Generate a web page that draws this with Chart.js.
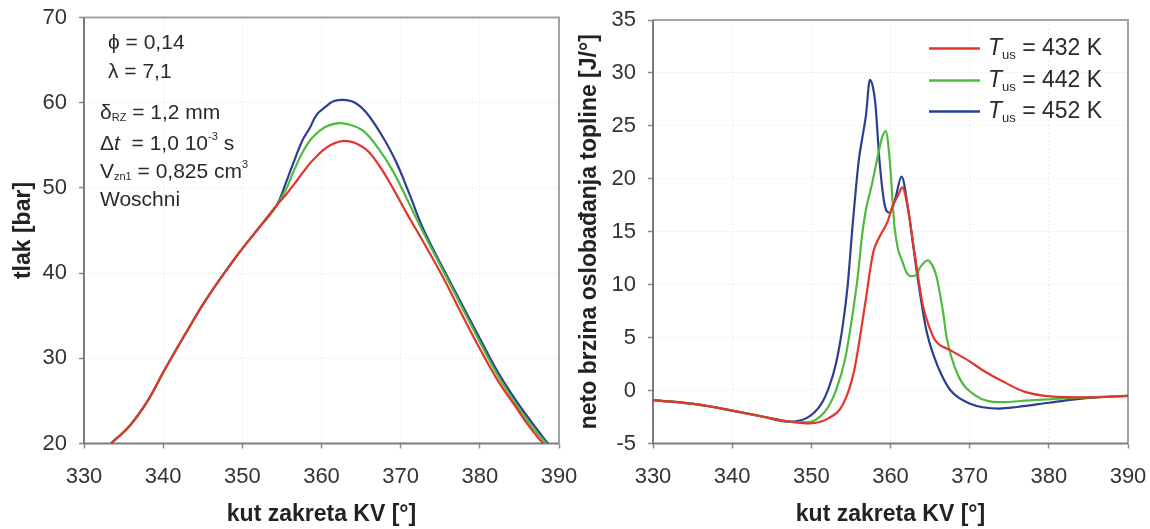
<!DOCTYPE html>
<html>
<head>
<meta charset="utf-8">
<script src="https://cdn.jsdelivr.net/npm/chart.js@4"></script>
<style>
  body { margin: 0; background: #fff; }
  .box { position: absolute; top: 0; height: 529px; }
</style>
</head>
<body>
<div class="box" style="left:0;width:600px"><canvas id="tlakChart"></canvas></div>
<div class="box" style="left:560px;width:590px"><canvas id="toplinaChart"></canvas></div>
<script>
// ---------------- data ----------------
const tempK = [432, 442, 452];
const seriesColors = ["#e2352c", "#4cbb3e", "#2c3e92"];
const angleTicks = [330, 340, 350, 360, 370, 380, 390];
const tlakTicks = [20, 30, 40, 50, 60, 70];
const toplinaTicks = [-5, 0, 5, 10, 15, 20, 25, 30, 35];

// left panel - pressure [bar]
const tlakAngle432 = [333.4, 335.7, 338.0, 340.1, 342.7, 345.5, 349.2, 352.0, 354.3, 355.5, 356.6, 357.8, 358.95, 361.1, 363.3, 365.5, 367.3, 369.0, 370.9, 372.9, 375.3, 377.6, 379.9, 382.2, 384.6, 386.4, 388.0];
const tlak432 = [20.0, 22.0, 24.95, 28.5, 32.7, 37.0, 41.9, 45.2, 47.9, 49.2, 50.5, 52.0, 53.3, 55.0, 55.5, 54.6, 52.6, 50.0, 46.8, 43.6, 39.6, 35.4, 31.3, 27.5, 24.2, 21.8, 20.0];
const tlakAngle442 = [333.4, 335.7, 338.0, 340.1, 342.7, 345.5, 349.2, 352.0, 354.3, 355.5, 356.6, 357.8, 358.95, 360.6, 362.4, 364.0, 365.4, 367.2, 369.0, 370.9, 372.9, 376.4, 379.9, 382.2, 384.6, 386.6, 388.4];
const tlak442 = [20.0, 22.0, 24.95, 28.5, 32.7, 37.0, 41.9, 45.2, 47.9, 49.8, 52.2, 54.5, 56.0, 57.2, 57.6, 57.3, 56.6, 54.6, 52.0, 48.5, 44.7, 38.4, 32.1, 28.1, 24.6, 22.0, 20.0];
const tlakAngle452 = [333.4, 335.7, 338.0, 340.1, 342.7, 345.5, 349.2, 352.0, 354.3, 355.5, 356.6, 357.6, 358.5, 359.4, 360.5, 361.6, 363.2, 364.4, 365.6, 367.4, 369.3, 371.1, 372.9, 376.4, 379.9, 382.2, 384.6, 386.7, 388.6];
const tlak452 = [20.0, 22.0, 24.95, 28.5, 32.7, 37.0, 41.9, 45.2, 47.9, 50.6, 53.3, 55.6, 57.0, 58.6, 59.5, 60.2, 60.3, 59.9, 58.9, 56.5, 53.3, 49.3, 45.1, 38.7, 32.5, 28.5, 25.0, 22.3, 20.0];

// right panel - net heat release rate [J/deg]
const qAngle432 = [330, 335.8, 340, 343.8, 347, 349.8, 352.2, 354.0, 355.4, 356.8, 357.8, 358.6, 359.6, 360.3, 361.0, 361.5, 362.2, 363.1, 364.1, 365.0, 365.7, 367.6, 369.9, 371.8, 374.1, 376.9, 380.2, 384.9, 390];
const q432 = [-0.9, -1.33, -1.9, -2.45, -2.9, -3.1, -2.6, -1.3, 1.85, 8.2, 13.0, 14.5, 15.9, 17.5, 18.5, 19.2, 17.2, 12.7, 8.0, 5.8, 4.7, 3.8, 2.8, 1.85, 0.9, -0.1, -0.55, -0.65, -0.5];
const qAngle442 = [330, 335.8, 340, 343.8, 347, 349.4, 351.7, 353.1, 354.3, 355.4, 355.9, 356.4, 356.9, 357.6, 358.3, 358.9, 359.4, 359.9, 360.5, 361.0, 361.4, 362.0, 362.6, 363.2, 363.8, 364.7, 365.3, 365.8, 366.6, 367.1, 368.5, 370.8, 373.8, 378, 382, 386.4, 390];
const q442 = [-0.9, -1.33, -1.9, -2.45, -2.9, -3.0, -2.0, 0.0, 3.1, 8.2, 11.0, 14.6, 17.1, 19.3, 21.8, 23.8, 24.5, 21.8, 15.5, 13.2, 12.4, 11.2, 10.8, 10.9, 11.7, 12.3, 11.8, 10.8, 7.6, 5.0, 1.5, -0.5, -1.1, -0.9, -0.75, -0.6, -0.5];
const qAngle452 = [330, 335.8, 340, 343.8, 347, 349.4, 351.2, 352.2, 353.1, 354.0, 354.6, 355.2, 356.0, 356.4, 356.9, 357.4, 357.8, 358.1, 358.6, 359.25, 359.9, 360.6, 361.4, 362.2, 362.9, 363.6, 364.5, 365.5, 366.5, 367.6, 369.9, 373.8, 376, 380, 383, 386.4, 390];
const q452 = [-0.9, -1.33, -1.9, -2.45, -2.93, -2.6, -1.33, 0.26, 2.5, 6.3, 10.0, 15.5, 21.8, 23.7, 26.0, 29.35, 28.6, 27.0, 21.8, 17.6, 16.8, 18.1, 20.2, 17.3, 13.5, 9.8, 5.8, 3.2, 1.4, 0.0, -1.2, -1.7, -1.55, -1.15, -0.85, -0.62, -0.5];

// ---------------- helpers ----------------
const FONT = "'Liberation Sans', Arial, sans-serif";
const toPoints = (xs, ys) => xs.map((x, i) => ({ x: x, y: ys[i] }));

function makeDataset(xs, ys, idx, smooth) {
  const ds = {
    label: "Tus = " + tempK[idx] + " K",
    data: toPoints(xs, ys),
    borderColor: seriesColors[idx],
    borderWidth: 2.2,
    pointRadius: 0,
    fill: false,
  };
  if (smooth) ds.tension = 0.4;
  else ds.cubicInterpolationMode = "monotone";
  return ds;
}

// draw text pieces one after another: [text, size, italic, dy]
function drawRich(ctx, x, y, parts) {
  let cx = x;
  parts.forEach((p) => {
    ctx.font = (p[2] ? "italic " : "") + p[1] + "px " + FONT;
    ctx.fillText(p[0], cx, y + (p[3] || 0));
    cx += ctx.measureText(p[0]).width;
  });
}

// gray box round the plot area
const framePlugin = {
  id: "frame",
  beforeDatasetsDraw(chart) {
    const { ctx, chartArea: a } = chart;
    ctx.save();
    ctx.lineWidth = 2;
    ctx.strokeStyle = "#a2a2a2";
    ctx.beginPath();
    ctx.moveTo(a.left, a.top);
    ctx.lineTo(a.right, a.top);
    ctx.lineTo(a.right, a.bottom);
    ctx.stroke();
    ctx.strokeStyle = "#7c7c7c";
    ctx.beginPath();
    ctx.moveTo(a.left, a.top);
    ctx.lineTo(a.left, a.bottom);
    ctx.lineTo(a.right, a.bottom);
    ctx.stroke();
    ctx.restore();
  },
};

function makeOptions(yMin, yMax, yStep, yTitle, yWidth, yTitlePad, pad) {
  return {
    responsive: true,
    maintainAspectRatio: false,
    animation: false,
    layout: { padding: pad },
    plugins: { legend: { display: false }, tooltip: { enabled: false } },
    scales: {
      x: {
        type: "linear",
        min: angleTicks[0],
        max: angleTicks[angleTicks.length - 1],
        afterFit: (s) => { s.height = 85.5; s.paddingLeft = 0; s.paddingRight = 0; },
        ticks: { stepSize: 10, padding: 15, color: "#333", font: { family: FONT, size: 22, lineHeight: 1.2 } },
        grid: { color: "#e0e0e0", lineWidth: 1, tickLength: 5, tickColor: "#8a8a8a", tickWidth: 1.5 },
        border: { display: false, dash: [1, 3] },
        title: {
          display: true,
          text: "kut zakreta KV [°]",
          color: "#222",
          padding: { top: 0, bottom: 1 },
          font: { family: FONT, size: 23, weight: "bold", lineHeight: 1.2 },
        },
      },
      y: {
        min: yMin,
        max: yMax,
        afterFit: (s) => { s.width = yWidth; s.paddingTop = 0; s.paddingBottom = 0; },
        ticks: { stepSize: yStep, padding: 12, color: "#333", font: { family: FONT, size: 22, lineHeight: 1.2 } },
        grid: { color: "#e0e0e0", lineWidth: 1, tickLength: 5, tickColor: "#8a8a8a", tickWidth: 1.5 },
        border: { display: false, dash: [1, 3] },
        title: {
          display: true,
          text: yTitle,
          color: "#222",
          padding: { top: yTitlePad, bottom: 0 },
          font: { family: FONT, size: 23, weight: "bold", lineHeight: 1.2 },
        },
      },
    },
  };
}

// ---------------- left: pressure ----------------
const notesPlugin = {
  id: "notes",
  afterDraw(chart) {
    const ctx = chart.ctx;
    ctx.save();
    ctx.fillStyle = "#2a2a2a";
    ctx.textBaseline = "middle";
    drawRich(ctx, 108, 43, [["ϕ = 0,14", 21]]);
    drawRich(ctx, 108, 72, [["λ = 7,1", 21]]);
    drawRich(ctx, 100, 113, [["δ", 21], ["RZ", 11, false, 5], [" = 1,2 mm", 21]]);
    drawRich(ctx, 100, 144, [["Δ", 21], ["t", 21, true], ["  = 1,0 10", 21], ["-3", 11, false, -7], [" s", 21]]);
    drawRich(ctx, 100, 172, [["V", 21], ["zn1", 11, false, 5], [" = 0,825 cm", 21], ["3", 11, false, -7]]);
    drawRich(ctx, 100, 200, [["Woschni", 21]]);
    ctx.restore();
  },
};

new Chart(document.querySelector("#tlakChart").getContext("2d"), {
  type: "line",
  data: {
    datasets: [
      makeDataset(tlakAngle432, tlak432, 0, true),
      makeDataset(tlakAngle442, tlak442, 1, true),
      makeDataset(tlakAngle452, tlak452, 2, true),
    ],
  },
  options: makeOptions(tlakTicks[0], tlakTicks[tlakTicks.length - 1], 10, "tlak [bar]", 84, 10,
    { left: 0, right: 41, top: 17.5, bottom: 0 }),
  plugins: [framePlugin, notesPlugin],
});

// ---------------- right: heat release ----------------
const legendPlugin = {
  id: "tusLegend",
  afterDraw(chart) {
    const ctx = chart.ctx;
    const rows = [48.5, 80.5, 111.5];
    ctx.save();
    ctx.textBaseline = "middle";
    chart.data.datasets.forEach((ds, i) => {
      ctx.strokeStyle = ds.borderColor;
      ctx.lineWidth = 2.5;
      ctx.beginPath();
      ctx.moveTo(369, rows[i]);
      ctx.lineTo(420, rows[i]);
      ctx.stroke();
      ctx.fillStyle = "#2a2a2a";
      drawRich(ctx, 428, rows[i], [["T", 23, true], ["us", 13, false, 7], [" = " + tempK[i] + " K", 23]]);
    });
    ctx.restore();
  },
};

new Chart(document.querySelector("#toplinaChart").getContext("2d"), {
  type: "line",
  data: {
    datasets: [
      makeDataset(qAngle432, q432, 0, false),
      makeDataset(qAngle442, q442, 1, false),
      makeDataset(qAngle452, q452, 2, false),
    ],
  },
  options: makeOptions(toplinaTicks[0], toplinaTicks[toplinaTicks.length - 1], 5,
    "neto brzina oslobađanja topline [J/°]", 93, 16,
    { left: 0, right: 22, top: 20, bottom: 0 }),
  plugins: [framePlugin, legendPlugin],
});
</script>
</body>
</html>
